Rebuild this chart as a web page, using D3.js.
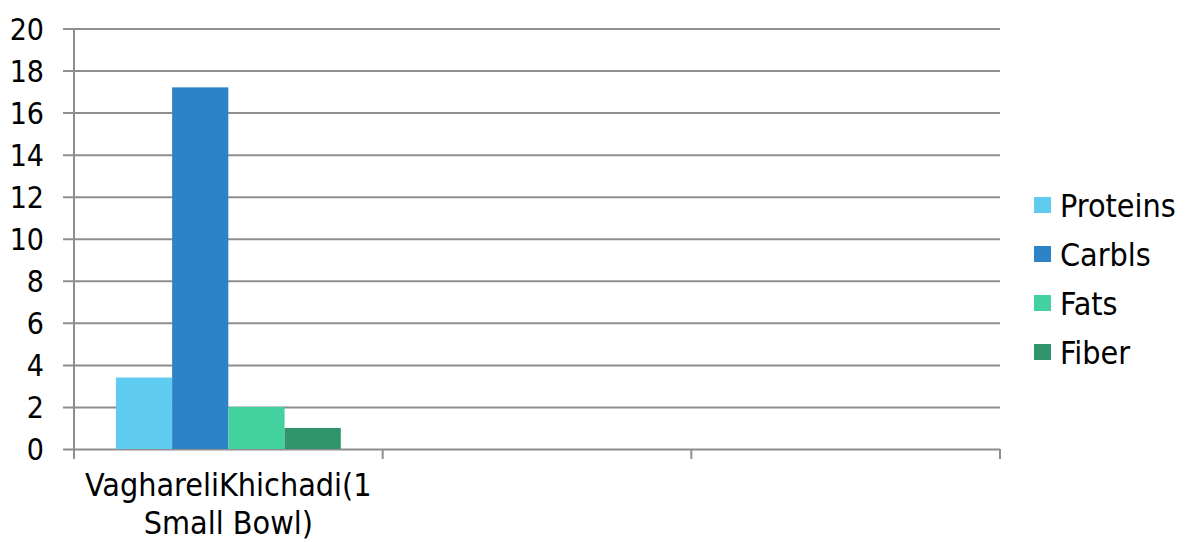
<!DOCTYPE html>
<html>
<head>
<meta charset="utf-8">
<script src="https://cdn.jsdelivr.net/npm/d3@7"></script>
<style>
  html, body { margin: 0; padding: 0; background: #fff; }
  svg { display: block; }
  text { font-family: "DejaVu Sans Condensed", "DejaVu Sans", sans-serif; font-stretch: condensed; fill: #000; }
</style>
</head>
<body>
<svg id="chart" width="1185" height="542"></svg>
<script>
// Nutrition breakdown per serving
const categories = ["VaghareliKhichadi(1 Small Bowl)", "", ""];
const seriesNames = ["Proteins", "Carbls", "Fats", "Fiber"];
const seriesColors = ["#5ecbef", "#2e83c6", "#43d1a0", "#30946c"];
const proteins = [3.4, null, null];
const carbls = [17.2, null, null];
const fats = [2.0, null, null];
const fiber = [1.0, null, null];
const yTicks = [0, 2, 4, 6, 8, 10, 12, 14, 16, 18, 20];

const seriesValues = [proteins, carbls, fats, fiber];

const svg = d3.select("#chart");
const plotLeft = 74, plotRight = 1000, plotTop = 28.5, plotBottom = 449;
const gridColor = "#8e8e8e";

const x0 = d3.scaleBand().domain(categories.map((c, i) => i)).range([plotLeft, plotRight]).padding(0);
const x1 = d3.scaleBand().domain(seriesNames).range([0, x0.bandwidth()])
  .paddingInner(0).paddingOuter(0.745);
const y = d3.scaleLinear().domain([0, 20]).range([plotBottom, plotTop]);

// Horizontal gridlines with left tick stubs
const yAxis = d3.axisLeft(y).tickValues(yTicks).tickSize(-(plotRight - plotLeft)).tickSizeOuter(0).tickPadding(0);
const gy = svg.append("g").attr("transform", `translate(${plotLeft},0)`).call(yAxis);
gy.select(".domain").remove();
gy.selectAll(".tick line").attr("x1", -11).attr("stroke", gridColor).attr("stroke-width", 2);
gy.selectAll(".tick text").attr("x", -30).attr("dy", "0.36em")
  .style("font-size", "30px").attr("fill", "#000");

// Vertical axis line
svg.append("line").attr("x1", plotLeft).attr("x2", plotLeft).attr("y1", plotTop).attr("y2", plotBottom + 10)
  .attr("stroke", gridColor).attr("stroke-width", 2);

// Bottom axis with category dividers
const gx = svg.append("g");
const edges = categories.map((c, i) => x0(i)).concat([plotRight]);
gx.selectAll("line.div").data(edges).join("line")
  .attr("x1", d => d).attr("x2", d => d).attr("y1", plotBottom).attr("y2", plotBottom + 10)
  .attr("stroke", gridColor).attr("stroke-width", 2);

// Bars
const groups = svg.append("g").selectAll("g").data(categories.map((c, i) => i)).join("g")
  .attr("transform", i => `translate(${x0(i)},0)`);
groups.selectAll("rect")
  .data(i => seriesNames.map((s, k) => ({ s, k, v: seriesValues[k][i] })).filter(d => d.v != null))
  .join("rect")
  .attr("x", d => x1(d.s))
  .attr("width", x1.bandwidth())
  .attr("y", d => y(d.v))
  .attr("height", d => y(0) - y(d.v))
  .attr("fill", d => seriesColors[d.k]);

// Category labels, wrapped onto two lines
const wrapLines = { "VaghareliKhichadi(1 Small Bowl)": ["VaghareliKhichadi(1", "Small Bowl)"] };
categories.forEach((c, i) => {
  if (!c) return;
  const lines = wrapLines[c] || [c];
  const t = svg.append("text").attr("text-anchor", "middle")
    .attr("x", x0(i) + x0.bandwidth() / 2).attr("y", 496).style("font-size", "32px");
  lines.forEach((ln, j) => t.append("tspan").attr("x", x0(i) + x0.bandwidth() / 2).attr("dy", j ? 38 : 0).text(ln));
});

// Legend
const lg = svg.append("g").attr("transform", "translate(1034,0)");
seriesNames.forEach((s, k) => {
  const cy = 205 + k * 49;
  lg.append("rect").attr("x", 0).attr("y", cy - 8).attr("width", 17).attr("height", 16).attr("fill", seriesColors[k]);
  lg.append("text").attr("x", 26).attr("y", cy).attr("dy", "0.36em").style("font-size", "32px").text(s);
});
</script>
</body>
</html>
